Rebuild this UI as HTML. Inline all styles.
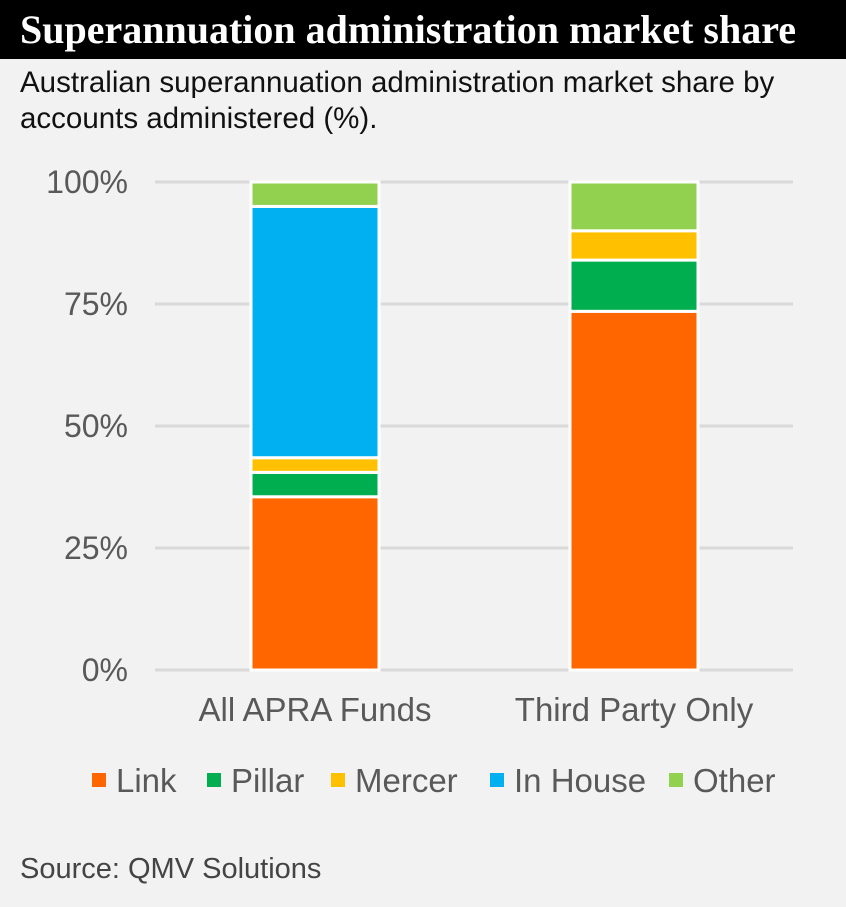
<!DOCTYPE html>
<html><head><meta charset="utf-8"><style>
body{margin:0;width:846px;height:907px;background:#f2f2f2;font-family:"Liberation Sans",sans-serif;overflow:hidden;position:relative}
#title{position:absolute;left:0;top:0;width:846px;height:59px;background:#000;color:#fff;font-family:"Liberation Serif",serif;font-weight:bold;font-size:40px;line-height:59px;padding-left:20px;box-sizing:border-box;white-space:nowrap}
#sub{position:absolute;left:20px;top:65px;font-size:29.5px;line-height:36px;color:#111;white-space:nowrap}
#src{position:absolute;left:20px;top:853px;font-size:29px;color:#444}
</style></head><body>
<div id="title">Superannuation administration market share</div>
<div id="sub">Australian superannuation administration market share by<br>accounts administered (%).</div>
<svg id="c" width="846" height="907" style="position:absolute;left:0;top:0"></svg>
<div id="src">Source: QMV Solutions</div>
<script>
const categories=["All APRA Funds","Third Party Only"];
const seriesNames=["Link","Pillar","Mercer","In House","Other"];
const colors=["#ff6600","#00ad4f","#ffc000","#00b0f0","#92d050"];
const link=[35.5,73.5];
const pillar=[5,10.5];
const mercer=[3,6];
const inHouse=[51.5,0];
const other=[5,10];
const tickLabels=["0%","25%","50%","75%","100%"];
const tickValues=[0,25,50,75,100];
const series=[link,pillar,mercer,inHouse,other];
const svg=document.getElementById('c');const NS='http://www.w3.org/2000/svg';
const y=v=>670-v*4.88;
const x=i=>315+i*319;
function mk(t,a){const e=document.createElementNS(NS,t);for(const k in a)e.setAttribute(k,a[k]);svg.appendChild(e);return e;}
tickValues.forEach((v,i)=>{
 const l=mk('line',{x1:155,x2:793,y1:y(v),y2:y(v),stroke:'#d9d9d9','stroke-width':3});
 
 
 const t=mk('text',{x:128,y:y(v)+11,'text-anchor':'end','font-size':32,fill:'#595959','font-family':'Liberation Sans'});
 t.textContent=tickLabels[i];
 
 
});
categories.forEach((c,i)=>{
 let base=0;
 series.forEach((s,k)=>{
  const v=s[i];if(v>0){
   const r=mk('rect',{x:x(i)-64,y:y(base+v),width:128,height:v*4.88,fill:colors[k],stroke:'#fff','stroke-width':3});
   
   
  }
  base+=v;
 });
 const t=mk('text',{x:x(i),y:721,'text-anchor':'middle','font-size':33,fill:'#595959','font-family':'Liberation Sans'});
 t.textContent=c;
 
 
});
const lx=[92,207,331,490,669];
seriesNames.forEach((n,k)=>{
 const r=mk('rect',{x:lx[k],y:773,width:14,height:14,fill:colors[k]});
 
 
 const t=mk('text',{x:lx[k]+24,y:792,'font-size':33,fill:'#595959','font-family':'Liberation Sans'});
 t.textContent=n;
 
 
});
</script>
</body></html>
